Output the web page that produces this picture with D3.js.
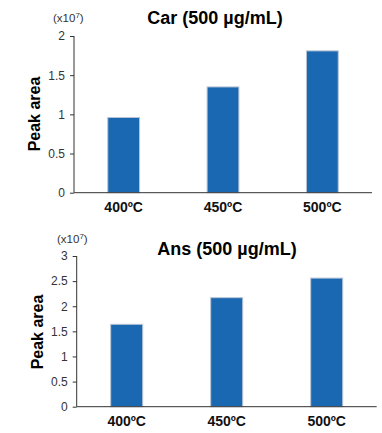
<!DOCTYPE html>
<html>
<head>
<meta charset="utf-8">
<script src="https://cdn.jsdelivr.net/npm/d3@7"></script>
<style>
  body { margin: 0; background: #fff; }
  svg { display: block; font-family: Arial, "Liberation Sans", sans-serif; }
</style>
</head>
<body>
<div id="visualization-area"></div>
<script>
// temperatures on x, peak area in units of 1e7
var temps = ["400ºC", "450ºC", "500ºC"];
var carValues = [0.96, 1.35, 1.81];
var ansValues = [1.64, 2.17, 2.56];
var carTicks = [0, 0.5, 1, 1.5, 2];
var ansTicks = [0, 0.5, 1, 1.5, 2, 2.5, 3];

var svg = d3.select("#visualization-area").append("svg")
    .attr("width", 382)
    .attr("height", 433);

function drawPanel(cfg) {
    var g = svg.append("g");

    var x = d3.scaleBand()
        .domain(temps)
        .range([cfg.left, cfg.right])
        .paddingInner(0.68)
        .paddingOuter(0.34);

    var y = d3.scaleLinear()
        .domain([0, cfg.max])
        .range([cfg.bottom, cfg.top]);

    g.selectAll("rect.bar")
        .data(cfg.values)
        .enter().append("rect")
        .attr("class", "bar")
        .attr("x", function(d, i) { return x(temps[i]); })
        .attr("y", function(d) { return y(d); })
        .attr("width", x.bandwidth())
        .attr("height", function(d) { return y(0) - y(d); })
        .attr("fill", "#1a67b2")
        .attr("stroke", "#b8c4d4")
        .attr("stroke-width", 1);

    var yAxis = g.append("g")
        .attr("transform", "translate(" + cfg.left + ",0)")
        .call(d3.axisLeft(y).tickValues(cfg.ticks).tickSize(4).tickPadding(5)
            .tickFormat(d3.format("")));
    yAxis.select(".domain").attr("stroke", "#333").attr("d", "M0," + cfg.top + "V" + cfg.bottom);
    yAxis.selectAll(".tick line").attr("stroke", "#333");
    yAxis.selectAll("text").attr("font-size", 12).attr("fill", "#333");

    // x axis baseline, no ticks
    g.append("line")
        .attr("x1", cfg.left).attr("x2", cfg.right)
        .attr("y1", y(0)).attr("y2", y(0))
        .attr("stroke", "#333");

    g.selectAll("text.xlab")
        .data(temps)
        .enter().append("text")
        .attr("class", "xlab")
        .attr("x", function(d) { return x(d) + x.bandwidth() / 2; })
        .attr("y", cfg.bottom + 19)
        .attr("text-anchor", "middle")
        .attr("font-size", 14)
        .attr("font-weight", "bold")
        .attr("fill", "#111")
        .text(function(d) { return d; });

    g.append("text")
        .attr("x", cfg.titleX)
        .attr("y", cfg.titleY)
        .attr("text-anchor", "middle")
        .attr("font-size", 18)
        .attr("font-weight", "bold")
        .attr("fill", "#000")
        .text(cfg.title);

    var unit = g.append("text")
        .attr("x", cfg.unitX)
        .attr("y", cfg.unitY)
        .attr("font-size", 11.5)
        .attr("fill", "#333");
    unit.append("tspan").text("(x10");
    unit.append("tspan").attr("font-size", 8).attr("dy", -4).text("7");
    unit.append("tspan").attr("dy", 4).text(")");

    g.append("text")
        .attr("transform", "translate(" + cfg.labelX + "," + cfg.labelY + ") rotate(-90)")
        .attr("text-anchor", "middle")
        .attr("font-size", 16)
        .attr("font-weight", "bold")
        .attr("fill", "#000")
        .text("Peak area");
}

drawPanel({
    values: carValues, ticks: carTicks, max: 2,
    left: 74, right: 372, top: 36, bottom: 192.7,
    title: "Car (500 µg/mL)", titleX: 215, titleY: 24,
    unitX: 53, unitY: 22, labelX: 40, labelY: 114
});

drawPanel({
    values: ansValues, ticks: ansTicks, max: 3,
    left: 76.7, right: 376.7, top: 256, bottom: 406.7,
    title: "Ans (500 µg/mL)", titleX: 227, titleY: 255,
    unitX: 57, unitY: 243, labelX: 43, labelY: 332
});
</script>
</body>
</html>
